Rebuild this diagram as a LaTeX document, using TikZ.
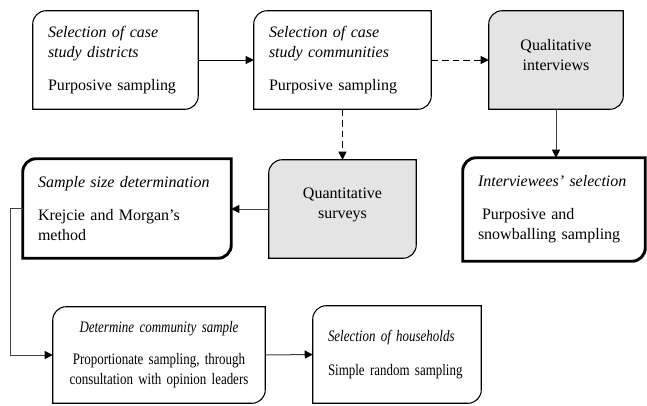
\documentclass[tikz,border=0pt]{standalone}
\usepackage{fontspec}
\setmainfont{Liberation Serif}
\newfontfamily\narrowserif[FakeStretch=0.81]{Liberation Serif}
\usepackage{xcolor}
\usetikzlibrary{arrows.meta,backgrounds}
\definecolor{cardgrey}{HTML}{E4E4E4}
\newcommand{\cardedge}[2][]{%
\draw[#1] ([yshift=-10pt]#2.north west) arc[start angle=180,end angle=90,radius=10pt]
  -- (#2.north east) -- ([yshift=10pt]#2.south east) arc[start angle=0,end angle=-90,radius=10pt]
  -- (#2.south west) -- cycle;}

\begin{document}
\begin{tikzpicture}[x=0.75pt,y=0.75pt,font=\fontsize{12}{15}\selectfont,
  card/.style={inner xsep=11.25pt,inner ysep=0pt,align=left},
  narrow/.style={font=\fontsize{12}{15}\narrowserif\selectfont},
  link/.style={line width=0.75pt,draw=black!75,-{Triangle[length=6pt,width=6pt,black]}},
  dashlink/.style={link,draw=black,dash pattern=on 5pt off 3pt}]
\useasboundingbox (0,0) rectangle (647,-405);

\node[card,text width=101.25pt,minimum height=73.5pt] (districts) at (115.5,-60)
  {\textit{Selection of case}\\\textit{study districts}\\[10pt]Purposive sampling};
\node[card,text width=110.25pt,minimum height=73.5pt] (communities) at (342.5,-60)
  {\textit{Selection of case}\\\textit{study communities}\\[10pt]Purposive sampling};
\node[card,text width=78pt,minimum height=73.5pt,align=center] (interviews) at (556,-60)
  {Qualitative\\interviews\\[-7pt]\mbox{}};
\node[card,text width=87.75pt,minimum height=73.5pt,align=center] (surveys) at (342.5,-209)
  {Quantitative\\surveys\\[-7pt]\mbox{}};
\node[card,text width=133.5pt,minimum height=74.25pt] (samplesize) at (127,-208.5)
  {\textit{Sample size determination}\\[10pt]Krejcie and Morgan’s\\method};
\node[card,text width=114pt,minimum height=77.25pt] (interviewees) at (554,-209.5)
  {\textit{Interviewees’ selection}\\[10pt]\hspace{3pt}Purposive and\\snowballing sampling};
\node[card,narrow,text width=136.5pt,minimum height=72pt,align=center] (community) at (159,-355)
  {\textit{Determine community sample}\\[9pt]Proportionate sampling, through\\consultation with opinion leaders};
\node[card,narrow,text width=103.5pt,minimum height=72.75pt] (households) at (397,-354.5)
  {\textit{Selection of households}\\[10pt]Simple random sampling};

\begin{scope}[on background layer]
\cardedge[line width=0.8pt]{districts}
\cardedge[line width=0.8pt]{communities}
\cardedge[line width=0.8pt,fill=cardgrey]{interviews}
\cardedge[line width=0.8pt,fill=cardgrey]{surveys}
\cardedge[line width=2.2pt]{samplesize}
\cardedge[line width=2.2pt]{interviewees}
\cardedge[line width=0.8pt]{community}
\cardedge[line width=0.8pt]{households}
\end{scope}

\draw[link,draw=black] (districts.east) -- (communities.west);
\draw[dashlink] (communities.east) -- (interviews.west);
\draw[dashlink] (communities.south) -- (surveys.north);
\draw[link] (interviews.south) -- (interviews.south |- interviewees.north);
\draw[link] (surveys.west) -- (surveys.west -| samplesize.east);
\draw[link] (samplesize.west) -- ++(-12,0) |- (community.west);
\draw[link] (community.east) -- (households.west);
\end{tikzpicture}
\end{document}
